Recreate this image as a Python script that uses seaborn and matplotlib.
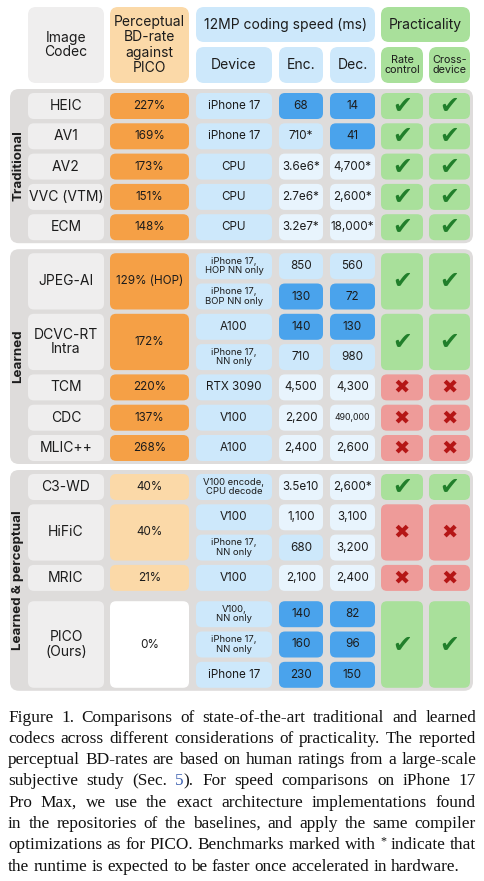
import matplotlib
matplotlib.use("Agg")
import matplotlib.pyplot as plt
from matplotlib.patches import FancyBboxPatch
import seaborn as sns

# ---- data ----
codecs = ["HEIC", "AV1", "AV2", "VVC (VTM)", "ECM",
          "JPEG-AI", "DCVC-RT\nIntra", "TCM", "CDC", "MLIC++",
          "C3-WD", "HiFiC", "MRIC", "PICO\n(Ours)"]
groups = ["Traditional"] * 5 + ["Learned"] * 5 + ["Learned & perceptual"] * 4
bd_rate = [227, 169, 173, 151, 148, 129, 172, 220, 137, 268, 40, 40, 21, 0]
bd_note = ["", "", "", "", "", " (HOP)", "", "", "", "", "", "", "", ""]
devices = [["iPhone 17"], ["iPhone 17"], ["CPU"], ["CPU"], ["CPU"],
           ["iPhone 17,\nHOP NN only", "iPhone 17,\nBOP NN only"],
           ["A100", "iPhone 17,\nNN only"], ["RTX 3090"], ["V100"], ["A100"],
           ["V100 encode,\nCPU decode"], ["V100", "iPhone 17,\nNN only"], ["V100"],
           ["V100,\nNN only", "iPhone 17,\nNN only", "iPhone 17"]]
enc_ms = [[68], [710], [3.6e6], [2.7e6], [3.2e7], [850, 130], [140, 710], [4500],
          [2200], [2400], [3.5e10], [1100, 680], [2100], [140, 160, 230]]
enc_star = [[0], [1], [1], [1], [1], [0, 0], [0, 0], [0], [0], [0], [0], [0, 0], [0], [0, 0, 0]]
dec_ms = [[14], [41], [4700], [2600], [18000], [560, 72], [130, 980], [4300],
          [490000], [2600], [2600], [3100, 3200], [2400], [82, 96, 150]]
dec_star = [[0], [0], [1], [1], [1], [0, 0], [0, 0], [0], [0], [0], [1], [0, 0], [0], [0, 0, 0]]
rate_control = [1, 1, 1, 1, 1, 1, 1, 0, 0, 0, 1, 0, 0, 1]
cross_device = [1, 1, 1, 1, 1, 1, 1, 0, 0, 0, 1, 0, 0, 1]

caption_lines = [
    "Figure 1. Comparisons of state-of-the-art traditional and learned",
    "codecs across different considerations of practicality. The reported",
    "perceptual BD-rates are based on human ratings from a large-scale",
    "subjective study (Sec. 5).  For speed comparisons on iPhone 17",
    "Pro Max, we use the exact architecture implementations found",
    "in the repositories of the baselines, and apply the same compiler",
    "optimizations as for PICO. Benchmarks marked with * indicate that",
    "the runtime is expected to be faster once accelerated in hardware.",
]

# ---- colours ----
GROUP_BG = "#dedcdb"
GREY = "#efeeee"
ORANGE = "#f5a046"
ORANGE_LIGHT = "#fbd9a8"
BLUE_LIGHT = "#cde8fb"
BLUE_DARK = "#4aa3ec"
BLUE_PALE = "#e8f4fd"
GREEN = "#a9e09b"
RED = "#ee9b99"
CHECK = "#217f2b"
CROSS = "#b51616"
TXT = "#1c1c1c"

sns.set_theme(style="white")
plt.rcParams["font.family"] = ["Inter", "DejaVu Sans"]

fig = plt.figure(figsize=(4.85, 8.81), dpi=100)
ax = fig.add_axes([0, 0, 1, 1])
ax.set_xlim(0, 485)
ax.set_ylim(881, 0)
ax.axis("off")

cols = {"codec": (28, 104), "bd": (110, 189), "dev": (196, 272), "enc": (279, 323),
        "dec": (330, 375), "rate": (381, 423), "cross": (429, 470)}
ROW_H = 26
PITCH = 30.3


def box(col, y0, y1, color, r=6):
    x0, x1 = cols[col] if isinstance(col, str) else col
    ax.add_patch(FancyBboxPatch((x0, y0), x1 - x0, y1 - y0,
                                boxstyle=f"round,pad=0,rounding_size={r}",
                                fc=color, ec="none"))


def label(col, y0, y1, s, size, color=TXT, **kw):
    x0, x1 = cols[col] if isinstance(col, str) else col
    ax.text((x0 + x1) / 2, (y0 + y1) / 2, s, ha="center", va="center",
            fontsize=size, color=color, linespacing=1.05, **kw)


def fmt_ms(v, star):
    if v >= 1e6:
        m = f"{v:.1e}".split("e+")
        s = f"{m[0]}e{int(m[1])}"
    elif v >= 1000:
        s = f"{int(v):,}"
    else:
        s = f"{int(v)}"
    return s + ("*" if star else "")


def speed_color(v):
    if v < 250:
        return BLUE_DARK
    if v < 1000:
        return BLUE_LIGHT
    return BLUE_PALE


# ---- header ----
box("codec", 7, 83, GREY, 8)
label("codec", 7, 83, "Image\nCodec", 10)
box("bd", 7, 83, ORANGE_LIGHT, 8)
ax.text(149.5, 45, "Perceptual\nBD-rate\nagainst\nPICO", ha="center", va="center",
        fontsize=10, color=TXT, linespacing=1.1)
box((196, 375), 7, 42, BLUE_LIGHT, 8)
label((196, 375), 7, 42, "12MP coding speed (ms)", 10)
for c, t in [("dev", "Device"), ("enc", "Enc."), ("dec", "Dec.")]:
    box(c, 47, 83, BLUE_LIGHT, 8)
    label(c, 47, 83, t, 10)
box((381, 470), 7, 42, GREEN, 8)
label((381, 470), 7, 42, "Practicality", 10)
box("rate", 47, 83, GREEN, 8)
label("rate", 47, 83, "Rate\ncontrol", 7.8)
box("cross", 47, 83, GREEN, 8)
label("cross", 47, 83, "Cross-\ndevice", 7.8)

# ---- body ----
y = 93.0
group_names = list(dict.fromkeys(groups))
for g in group_names:
    idx = [i for i, gg in enumerate(groups) if gg == g]
    g_top = y - 4
    for i in idx:
        if "Ours" in codecs[i]:
            y += 6
        n = len(devices[i])
        tops = [y + k * PITCH for k in range(n)]
        r_top, r_bot = tops[0], tops[-1] + ROW_H
        box("codec", r_top, r_bot, GREY)
        label("codec", r_top, r_bot, codecs[i], 10)
        if "Ours" in codecs[i]:
            bd_col = "white"
        elif g == "Learned & perceptual":
            bd_col = ORANGE_LIGHT
        else:
            bd_col = ORANGE
        box("bd", r_top, r_bot, bd_col)
        label("bd", r_top, r_bot, f"{bd_rate[i]}%{bd_note[i]}", 8.4)
        for k, t in enumerate(tops):
            dev = devices[i][k]
            box("dev", t, t + ROW_H, BLUE_LIGHT)
            label("dev", t, t + ROW_H, dev, 6.8 if "\n" in dev else 8.4)
            ev, dv = enc_ms[i][k], dec_ms[i][k]
            box("enc", t, t + ROW_H, speed_color(ev))
            label("enc", t, t + ROW_H, fmt_ms(ev, enc_star[i][k]), 8.4)
            box("dec", t, t + ROW_H, speed_color(dv))
            ds = fmt_ms(dv, dec_star[i][k])
            label("dec", t, t + ROW_H, ds, 6.3 if len(ds) > 6 and "*" not in ds else 8.4)
        for c, ok in [("rate", rate_control[i]), ("cross", cross_device[i])]:
            box(c, r_top, r_bot, GREEN if ok else RED)
            label(c, r_top, r_bot, "\u2714" if ok else "\u2716",
                  17 if ok else 14, color=CHECK if ok else CROSS, family="DejaVu Sans")
        y = tops[-1] + PITCH
    g_bot = y - PITCH + ROW_H + 3
    bg = FancyBboxPatch((10, g_top), 463, g_bot - g_top,
                        boxstyle="round,pad=0,rounding_size=9", fc=GROUP_BG, ec="none", zorder=0)
    ax.add_patch(bg)
    ax.text(18.5, (g_top + g_bot) / 2, g, rotation=90, ha="center", va="center",
            fontsize=9.6, fontweight="bold", color=TXT)
    y = g_bot + 10

# ---- caption (justified) ----
renderer = fig.canvas.get_renderer()
CAP_FAMILY = "Liberation Serif"
CAP_COLOR = "#111111"
LINK = "#3b5fb0"
x_left, x_right = 8, 476
base0, lead = 721.5, 21.3


def word_parts(w):
    if w == "5).":
        return [("5", LINK, 1.0, 0), (").", CAP_COLOR, 1.0, 0)]
    if w == "*":
        return [("*", CAP_COLOR, 0.7, -5)]
    return [(w, CAP_COLOR, 1.0, 0)]


def measure(s, size):
    t = ax.text(0, 0, s, family=CAP_FAMILY, fontsize=size)
    w = t.get_window_extent(renderer).width
    t.remove()
    return w


# largest size at which every line still fits with a normal word gap
cap_size = 13.6
while cap_size > 11:
    space = measure("a a", cap_size) - 2 * measure("a", cap_size)
    fits = True
    for line in caption_lines:
        words = line.split()
        nat = sum(sum(measure(p[0], cap_size * p[2]) for p in word_parts(w)) for w in words)
        if nat + space * 0.95 * (len(words) - 1) > x_right - x_left:
            fits = False
            break
    if fits:
        break
    cap_size -= 0.1

for li, line in enumerate(caption_lines):
    words = line.split()
    parts = [word_parts(w) for w in words]
    widths = [sum(measure(p[0], cap_size * p[2]) for p in ps) for ps in parts]
    last = li == len(caption_lines) - 1
    gap = measure("a a", cap_size) - 2 * measure("a", cap_size) if last else \
        (x_right - x_left - sum(widths)) / (len(words) - 1)
    x = x_left
    yb = base0 + li * lead
    for ps, w in zip(parts, widths):
        xx = x
        for s, col, sc, dy in ps:
            ax.text(xx, yb + dy, s, family=CAP_FAMILY, fontsize=cap_size * sc,
                    color=col, ha="left", va="baseline")
            xx += measure(s, cap_size * sc)
        x += w + gap

fig.savefig("out.png", dpi=100, facecolor="white")
